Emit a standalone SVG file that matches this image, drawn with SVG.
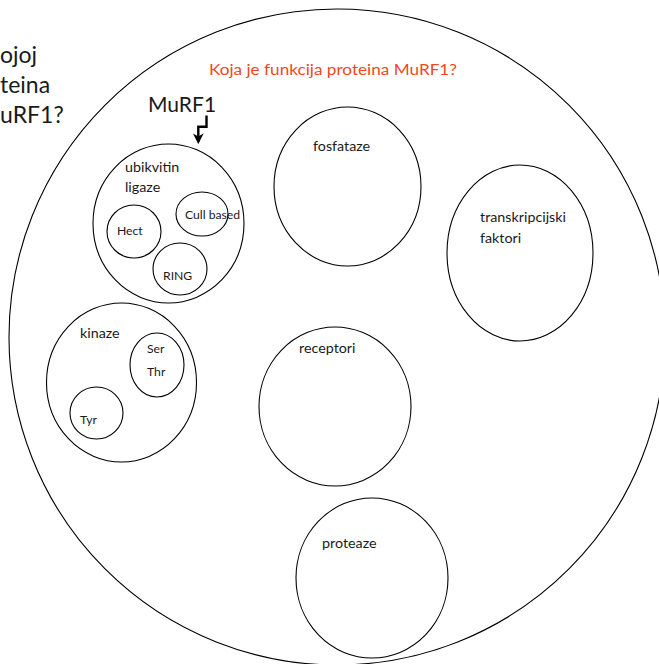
<svg xmlns="http://www.w3.org/2000/svg" width="659" height="664" viewBox="0 0 659 664">
<style>
.c{fill:none;stroke:#000;stroke-width:1.1}
.t{font-family:Lato,"Liberation Sans",sans-serif;fill:#1a1a1a}
.n{font-size:14.3px}
.s{font-size:12.2px}
.b{font-size:23px}
</style>
<defs>
<marker id="ah" viewBox="0 0 10 10" refX="8" refY="5" markerWidth="4.5" markerHeight="4.5" orient="auto" markerUnits="strokeWidth">
<path d="M0,0 L10,5 L0,10 L3,5 z" fill="#000"/>
</marker>
</defs>
<rect width="659" height="664" fill="#fff"/>
<g id="question-left">
<text class="t b" x="0" y="63">ojoj</text>
<text class="t b" x="0" y="93">teina</text>
<text class="t b" x="0" y="123">uRF1?</text>
</g>
<g id="outer">
<circle class="c" cx="337" cy="337" r="328" stroke-width="1.3"/>
<text class="t" x="209" y="75" font-size="14.8px" style="fill:#F24822" textLength="248" lengthAdjust="spacingAndGlyphs">Koja je funkcija proteina MuRF1?</text>
</g>
<g id="murf1">
<text class="t" x="148" y="112" font-size="21px">MuRF1</text>
</g>
<g id="ubikvitin-ligaze">
<ellipse class="c" cx="168.5" cy="223.5" rx="75.5" ry="79.5"/>
<text class="t n" x="125" y="172">ubikvitin</text>
<text class="t n" x="125" y="192">ligaze</text>
</g>
<g id="cull-based">
<ellipse class="c" cx="202" cy="214" rx="26" ry="22"/>
<text class="t s" x="185" y="219">Cull based</text>
</g>
<g id="hect">
<ellipse class="c" cx="134" cy="231.5" rx="27" ry="26.5"/>
<text class="t s" x="117" y="235">Hect</text>
</g>
<g id="ring">
<ellipse class="c" cx="180" cy="269" rx="27" ry="26"/>
<text class="t s" x="163" y="280">RING</text>
</g>
<g id="kinaze">
<ellipse class="c" cx="121.5" cy="382.5" rx="75" ry="79.5"/>
<text class="t n" x="80" y="338">kinaze</text>
</g>
<g id="ser-thr">
<ellipse class="c" cx="157" cy="365" rx="27" ry="32"/>
<text class="t s" x="147" y="353">Ser</text>
<text class="t s" x="147" y="376">Thr</text>
</g>
<g id="tyr">
<ellipse class="c" cx="96.5" cy="413" rx="26.5" ry="26"/>
<text class="t s" x="80" y="424">Tyr</text>
</g>
<g id="fosfataze">
<ellipse class="c" cx="347.5" cy="186.5" rx="73.5" ry="79.5"/>
<text class="t n" x="313" y="151">fosfataze</text>
</g>
<g id="transkripcijski-faktori">
<ellipse class="c" cx="520" cy="253" rx="73" ry="88"/>
<text class="t n" x="480" y="222">transkripcijski</text>
<text class="t n" x="480" y="243">faktori</text>
</g>
<g id="receptori">
<ellipse class="c" cx="335" cy="406.5" rx="76" ry="79.5"/>
<text class="t n" x="299" y="353">receptori</text>
</g>
<g id="proteaze">
<ellipse class="c" cx="372" cy="578" rx="76" ry="80"/>
<text class="t n" x="322" y="548">proteaze</text>
</g>
<g id="connectors">
<path d="M206.5,115.5 V126.7 H198.3 V142" fill="none" stroke="#000" stroke-width="2.4" marker-end="url(#ah)"/>
</g>
</svg>
